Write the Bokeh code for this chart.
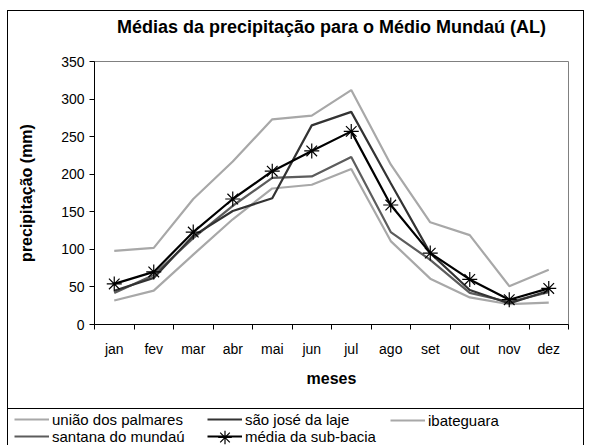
from bokeh.plotting import figure
from bokeh.models import FixedTicker, Legend, LegendItem, Range1d, Label
from bokeh.embed import file_html
from bokeh.resources import INLINE

months = ["jan", "fev", "mar", "abr", "mai", "jun", "jul", "ago", "set", "out", "nov", "dez"]
uniao_dos_palmares = [98, 102, 167, 217, 273, 278, 312, 213, 136, 119, 51, 73]
sao_jose_da_laje = [45, 62, 118, 151, 168, 265, 283, 188, 95, 46, 28, 45]
santana_do_mundau = [42, 66, 115, 158, 195, 197, 223, 123, 86, 42, 30, 43]
ibateguara = [32, 45, 93, 140, 181, 186, 207, 111, 61, 36, 27, 29]
media_sub_bacia = [54, 70, 123, 167, 204, 231, 257, 159, 95, 60, 33, 48]
y_ticks = [0, 50, 100, 150, 200, 250, 300, 350]
title_text = "Médias da precipitação para o Médio Mundaú (AL)"

FONT = "Liberation Sans"
W = 577
TITLE_H = 41

x = [i + 0.5 for i in range(len(months))]

series = [
    ("uniao", uniao_dos_palmares, dict(line_color="#a8a8a8", line_width=2.2)),
    ("ibat", ibateguara, dict(line_color="#a8a8a8", line_width=2.2)),
    ("sant", santana_do_mundau, dict(line_color="#5c5c5c", line_width=2.2)),
    ("sao", sao_jose_da_laje, dict(line_color="#333333", line_width=2.2)),
    ("media", media_sub_bacia, dict(line_color="black", line_width=2.2)),
]
marker_style = dict(marker="asterisk", size=15, line_color="black", line_width=1.2)

def strip(height, styles):
    f = figure(width=W, height=height, output_backend="svg", toolbar_location=None,
               min_border=0, x_range=Range1d(0, W), y_range=Range1d(0, height),
               x_axis_location=None, y_axis_location=None, styles=styles)
    f.outline_line_color = None
    f.xgrid.visible = False
    f.ygrid.visible = False
    f.background_fill_color = "white"
    f.border_fill_color = "white"
    return f

# title strip
p_title = strip(TITLE_H, {"border-top": "1px solid black", "border-left": "1px solid black",
                          "border-right": "1px solid black", "margin-left": "7px", "margin-top": "10px"})
p_title.add_layout(Label(x=323, y=TITLE_H - 15, text=title_text, text_font=FONT, text_font_style="bold",
                         text_font_size="18px", text_color="black", text_align="center",
                         text_baseline="middle"))

# main chart
p = figure(width=W, height=398 - TITLE_H, output_backend="svg", toolbar_location=None,
           x_range=Range1d(0, len(months)), y_range=Range1d(0, 350),
           min_border_left=86, min_border_right=17, min_border_top=51 - TITLE_H, min_border_bottom=84,
           styles={"border-left": "1px solid black", "border-right": "1px solid black", "margin-left": "7px"})
p.background_fill_color = "white"
p.border_fill_color = "white"
p.outline_line_color = "#808080"
p.xgrid.visible = False
p.ygrid.visible = False

xa = p.xaxis[0]
xa.ticker = FixedTicker(ticks=x, minor_ticks=list(range(len(months) + 1)))
xa.major_label_overrides = {xi: m for xi, m in zip(x, months)}
xa.major_tick_out = 0
xa.major_tick_in = 0
xa.minor_tick_out = 5
xa.minor_tick_in = 0
xa.minor_tick_line_color = "black"
xa.axis_line_color = "black"
xa.major_label_text_font = FONT
xa.major_label_text_font_size = "14px"
xa.major_label_text_color = "black"
xa.major_label_standoff = 11
xa.axis_label = "meses"
xa.axis_label_text_font = FONT
xa.axis_label_text_font_style = "bold"
xa.axis_label_text_font_size = "16px"
xa.axis_label_text_color = "black"
xa.axis_label_standoff = 10

ya = p.yaxis[0]
ya.ticker = FixedTicker(ticks=y_ticks, minor_ticks=[])
ya.major_tick_out = 5
ya.major_tick_in = 0
ya.major_tick_line_color = "black"
ya.minor_tick_out = 0
ya.minor_tick_in = 0
ya.axis_line_color = "black"
ya.major_label_text_font = FONT
ya.major_label_text_font_size = "14px"
ya.major_label_text_color = "black"
ya.major_label_standoff = 5
ya.axis_label = "precipitação (mm)"
ya.axis_label_text_font = FONT
ya.axis_label_text_font_style = "bold"
ya.axis_label_text_font_size = "16px"
ya.axis_label_text_color = "black"
ya.axis_label_standoff = 23

for key, vals, st in series:
    p.line(x, vals, **st)
p.scatter(x, media_sub_bacia, **marker_style)

# legend strip (its renderers lie outside its visible y range)
LEG_H = 37
p_leg = figure(width=W, height=LEG_H, output_backend="svg", toolbar_location=None,
               min_border=0, x_range=Range1d(0, len(months)), y_range=Range1d(1000, 1001),
               x_axis_location=None, y_axis_location=None,
               styles={"border-top": "1px solid black", "border-left": "1px solid black",
                       "border-right": "1px solid black", "margin-left": "7px"})
p_leg.outline_line_color = None
p_leg.xgrid.visible = False
p_leg.ygrid.visible = False
p_leg.background_fill_color = "white"
p_leg.border_fill_color = "white"

lr = {key: p_leg.line(x, vals, **st) for key, vals, st in series}
lr_pts = p_leg.scatter(x, media_sub_bacia, **marker_style)

def add_legend(items, x0, y0, gh=16):
    lg = Legend(items=items, location=(x0, y0), orientation="vertical",
                padding=0, margin=0, spacing=0, border_line_color=None, background_fill_alpha=0,
                glyph_width=35, glyph_height=gh, label_height=16, label_standoff=3,
                label_text_font=FONT, label_text_font_size="15px", label_text_color="black")
    p_leg.add_layout(lg, "center")

add_legend([LegendItem(label="união dos palmares", renderers=[lr["uniao"]]),
            LegendItem(label="santana do mundaú", renderers=[lr["sant"]])], 6, 1.5)
add_legend([LegendItem(label="são josé da laje", renderers=[lr["sao"]]),
            LegendItem(label="média da sub-bacia", renderers=[lr["media"]])], 199, 1.5)
add_legend([LegendItem(label="ibateguara", renderers=[lr["ibat"]])], 382, 17.5)
# larger asterisk for the média legend entry
add_legend([LegendItem(label=" ", renderers=[lr_pts])], 199, -7.5, gh=34)

open("out.html", "w").write(file_html([p_title, p, p_leg], INLINE))
